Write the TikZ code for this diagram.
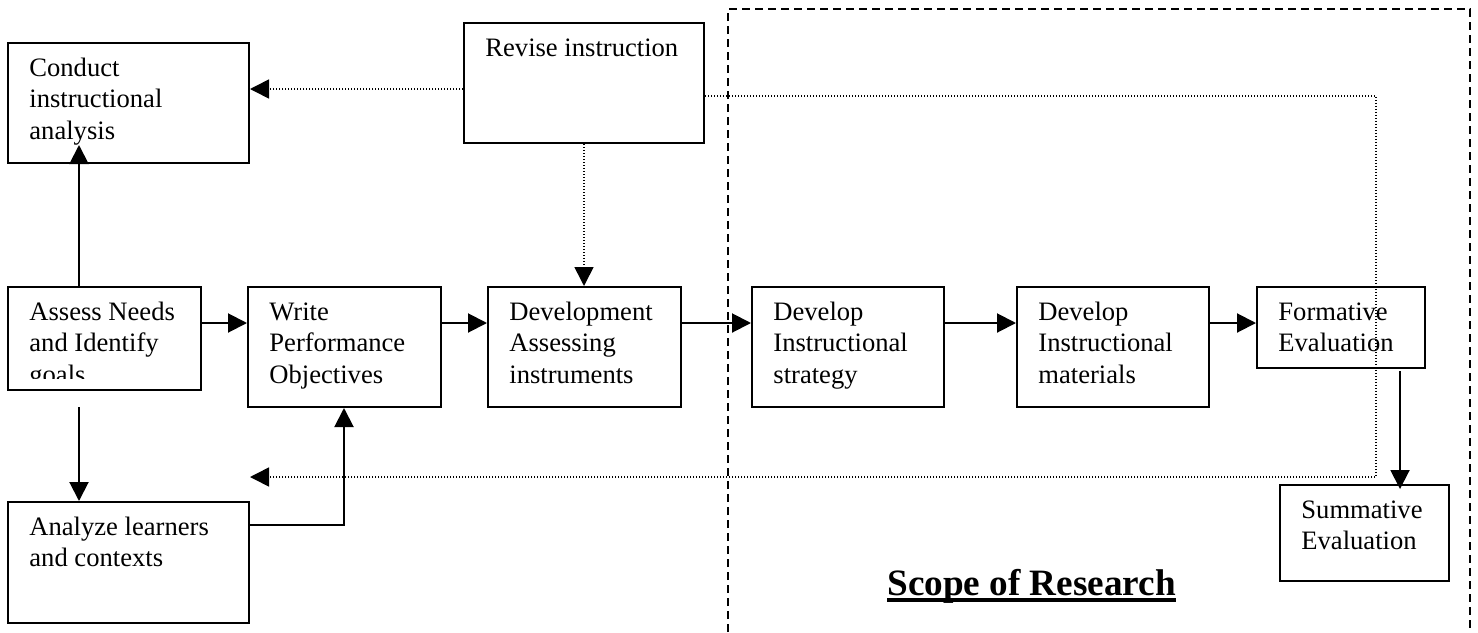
\documentclass[tikz,border=0pt]{standalone}
\usepackage{fontspec}
\setmainfont{Liberation Serif}
\usetikzlibrary{arrows.meta,calc}

\tikzset{
  stepbox/.style={draw, line width=1pt, rectangle, inner sep=0pt, anchor=north west},
  boxtext/.style={anchor=base west, inner sep=0pt, font=\fontsize{13.3}{15.75}\selectfont},
  flow/.style={line width=1pt, -{Triangle[length=9.5pt,width=9.5pt]}},
  loopback/.style={line width=0.8pt, dash pattern=on 0.7pt off 0.8pt, -{Triangle[length=9.5pt,width=9.5pt]}},
  scopeframe/.style={line width=1pt, dash pattern=on 4pt off 2.5pt},
}

% text block set inside a box, first baseline 34 units below its top edge
\newcommand{\boxlabel}[2]{%
  \node[boxtext] (#1-t) at ($(#1.north west)+(22,34)$)
    {\begin{tabular}[t]{@{}l@{}}#2\end{tabular}};}

% heavy underline
\newcommand{\thickul}[1]{\leavevmode\setbox0\hbox{#1}\rlap{\copy0}\rule[-3.5pt]{\wd0}{2pt}}

\begin{document}
\begin{tikzpicture}[x=0.5pt,y=-0.5pt]
\useasboundingbox (0,0) rectangle (1478,632);

% scope frame (open at the bottom)
\draw[scopeframe] (728,645) -- (728,9) -- (1470,9) -- (1470,645);

% boxes
\node[stepbox, minimum width=120.5pt, minimum height=60pt]   (cia) at (7,42)    {};
\node[stepbox, minimum width=120pt,   minimum height=60pt]   (rev) at (463,22)  {};
\node[stepbox, minimum width=96.5pt,  minimum height=51.5pt] (asn) at (7,286)   {};
\node[stepbox, minimum width=96.5pt,  minimum height=60pt]   (wpo) at (247,286) {};
\node[stepbox, minimum width=96.5pt,  minimum height=60pt]   (dai) at (487,286) {};
\node[stepbox, minimum width=96pt,    minimum height=60pt]   (dis) at (751,286) {};
\node[stepbox, minimum width=96pt,    minimum height=60pt]   (dim) at (1016,286) {};
\node[stepbox, minimum width=84pt,    minimum height=40.5pt] (fev) at (1256,286) {};
\node[stepbox, minimum width=84.5pt,  minimum height=48pt]   (sev) at (1279,484) {};
\node[stepbox, minimum width=120.5pt, minimum height=60.5pt] (alc) at (7,501)   {};

% labels
\boxlabel{cia}{Conduct\\instructional\\analysis}
\boxlabel{rev}{Revise instruction}
\begin{scope}
  \clip (7,286) rectangle (200,378);
  \boxlabel{asn}{Assess Needs\\and Identify\\goals}
\end{scope}
\boxlabel{wpo}{Write\\Performance\\Objectives}
\boxlabel{dai}{Development\\Assessing\\instruments}
\boxlabel{dis}{Develop\\Instructional\\strategy}
\boxlabel{dim}{Develop\\Instructional\\materials}
\boxlabel{fev}{Formative\\Evaluation}
\boxlabel{sev}{Summative\\Evaluation}
\boxlabel{alc}{Analyze learners\\and contexts}

\node[anchor=base west, inner sep=0pt, font=\fontsize{18.6}{22}\selectfont\bfseries]
  (scope) at (887,595) {\thickul{Scope of Research}};

% guide coordinates
\coordinate (row)   at (0,323);
\coordinate (colA)  at (79,0);
\coordinate (colW)  at (344,0);
\coordinate (colF)  at (1400,0);
\coordinate (rowR)  at (0,89);
\coordinate (colR)  at (584,0);
\coordinate (turn1) at (1376,96);
\coordinate (turn2) at (1376,477);

% main flow
\draw[flow] (asn.east |- row) -- (wpo.west |- row);
\draw[flow] (wpo.east |- row) -- (dai.west |- row);
\draw[flow] (dai.east |- row) -- (dis.west |- row);
\draw[flow] (dis.east |- row) -- (dim.west |- row);
\draw[flow] (dim.east |- row) -- (fev.west |- row);
\draw[flow, shorten >=-9.5pt] (asn.north -| colA) -- (cia.south -| colA);
\draw[flow, shorten <=8pt] (asn.south -| colA) -- (alc.north -| colA);
\draw[flow] ($(alc.north east)+(0,24)$) -| (wpo.south -| colW);
\draw[flow, shorten <=1pt, shorten >=-2.5pt] (fev.south -| colF) -- (sev.north -| colF);

% revision loops
\draw[loopback] (rev.west |- rowR) -- (cia.east |- rowR);
\draw[loopback] (rev.south -| colR) -- (dai.north -| colR);
\draw[loopback] (rev.east |- turn1) -- (turn1) -- (turn2) -- (alc.east |- turn2);

\end{tikzpicture}
\end{document}
